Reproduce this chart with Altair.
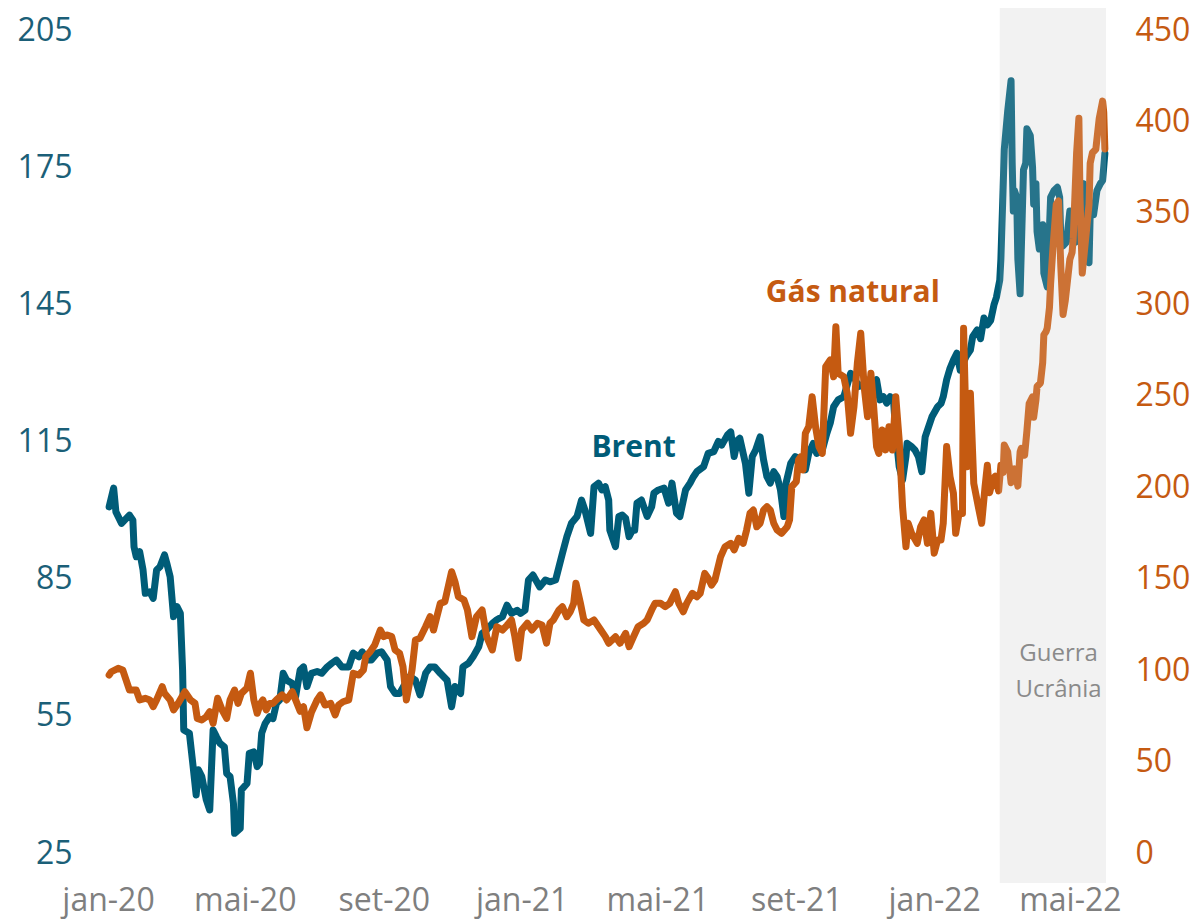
import altair as alt
import pandas as pd

# ---- data ----
# day offsets from 2020-01-01 and index values
brent_days = [1, 5, 7, 12, 19, 22, 23, 25, 28, 31, 33, 37, 40, 43, 46, 50, 52, 55, 58, 61,
              64, 66, 67, 72, 75, 78, 80, 83, 87, 90, 93, 96, 99, 103, 105, 108, 111, 112, 117, 118,
              123, 125, 129, 132, 134, 136, 139, 143, 146, 149, 152, 155, 158, 163, 166, 170, 173, 176, 180, 185,
              189, 194, 198, 202, 207, 213, 217, 222, 225, 229, 233, 238, 242, 247, 250, 254, 258, 263, 267, 272,
              276, 281, 285, 289, 294, 300, 304, 307, 312, 314, 319, 323, 328, 331, 335, 340, 344, 349, 353, 357,
              362, 365, 369, 372, 376, 382, 387, 391, 396, 399, 402, 406, 410, 415, 419, 422, 427, 430, 434, 437,
              440, 443, 444, 449, 452, 455, 458, 461, 464, 466, 468, 472, 477, 481, 483, 487, 492, 496, 499, 503,
              506, 511, 515, 518, 521, 527, 531, 536, 540, 543, 548, 551, 554, 557, 559, 564, 567, 570, 573, 576,
              577, 580, 583, 586, 589, 592, 595, 598, 600, 604, 608, 613, 617, 620, 624, 627, 632, 636, 639, 642,
              646, 651, 657, 660, 664, 669, 673, 677, 680, 683, 686, 689, 692, 695, 697, 700, 703, 706, 707, 711,
              714, 717, 720, 723, 726, 729, 734, 737, 739, 742, 745, 748, 751, 754, 759, 763, 765, 769, 772, 775,
              778, 781, 784, 786, 789, 790, 792, 793, 796, 799, 800, 801, 802, 804, 805, 807, 810, 812, 813, 816,
              818, 819, 821, 822, 824, 827, 828, 831, 834, 837, 840, 842, 843, 845, 848, 851, 853, 856, 857, 860,
              863, 866, 868, 869, 872, 875, 878, 880, 882]
brent_vals = [100.7, 104.8, 99.6, 97.1, 98.9, 97.8, 92.0, 89.8, 90.9, 86.9, 81.8, 82.1, 80.7, 86.9, 87.6, 90.2, 88.4, 85.4, 76.7, 78.9,
              77.4, 65.0, 51.9, 51.2, 44.6, 37.7, 43.2, 41.7, 36.6, 34.4, 51.9, 50.4, 49.0, 48.2, 42.4, 41.7, 35.8, 29.3, 30.4, 38.8,
              40.2, 46.8, 47.1, 43.9, 44.6, 51.2, 53.3, 54.8, 54.4, 57.7, 58.5, 64.3, 62.8, 62.1, 59.2, 65.0, 65.7, 61.4, 64.3, 64.7,
              64.3, 65.7, 66.5, 67.2, 65.7, 65.7, 68.7, 67.9, 69.0, 67.2, 67.2, 68.7, 69.0, 67.2, 61.4, 59.9, 59.9, 62.1, 63.6, 62.8,
              59.6, 64.3, 65.7, 65.7, 64.3, 62.8, 57.0, 61.4, 59.9, 65.7, 66.5, 67.9, 70.1, 73.0, 73.8, 75.2, 76.0, 76.7, 79.2, 77.4,
              78.1, 77.4, 78.1, 84.7, 85.8, 83.2, 84.7, 84.3, 84.7, 87.6, 90.5, 94.2, 97.1, 98.6, 102.2, 100.0, 94.9, 105.1, 105.9, 104.4,
              105.1, 102.2, 95.6, 92.0, 98.6, 98.9, 98.2, 94.2, 95.6, 95.6, 101.5, 102.2, 98.6, 100.7, 103.7, 104.4, 104.8, 101.5, 105.9, 99.3,
              98.6, 104.4, 105.9, 107.3, 108.4, 109.5, 112.4, 112.8, 115.0, 114.2, 116.4, 117.1, 111.7, 115.3, 115.7, 110.2, 103.7, 111.7, 113.1, 115.3,
              116.0, 111.0, 107.3, 105.9, 108.4, 107.3, 104.4, 98.6, 106.0, 110.2, 111.7, 111.0, 108.8, 112.4, 114.6, 112.4, 113.1, 116.8, 119.0, 122.6,
              124.1, 124.8, 129.9, 129.2, 127.0, 127.7, 128.5, 127.7, 128.5, 124.1, 124.8, 123.4, 124.8, 124.1, 116.8, 109.5, 106.6, 111.7, 114.6, 113.9,
              113.1, 111.7, 108.4, 116.0, 118.2, 120.4, 122.6, 123.3, 124.8, 128.5, 131.0, 132.8, 134.3, 130.6, 133.5, 135.0, 137.9, 139.4, 137.5, 142.0,
              140.5, 141.5, 145.0, 146.5, 150.3, 154.9, 170.6, 178.9, 187.2, 193.9, 175.9, 165.4, 169.9, 168.4, 154.9, 147.3, 174.4, 175.9, 183.4, 181.9,
              175.1, 166.9, 171.4, 160.9, 157.1, 162.4, 151.8, 148.8, 168.4, 169.9, 170.6, 168.4, 159.4, 157.8, 158.6, 165.4, 159.4, 158.6, 160.9, 165.4,
              171.4, 157.1, 154.1, 164.6, 164.6, 169.9, 171.4, 172.1, 178.0]

gas_days = [1, 3, 9, 13, 17, 19, 25, 28, 33, 37, 40, 43, 48, 50, 55, 58, 62, 68, 73, 77,
            79, 83, 87, 90, 93, 97, 101, 105, 108, 112, 115, 118, 123, 126, 129, 132, 135, 137, 140, 143,
            146, 149, 154, 158, 163, 166, 170, 173, 176, 180, 185, 188, 192, 197, 201, 204, 208, 213, 217, 222,
            226, 228, 232, 236, 241, 244, 247, 251, 254, 258, 261, 264, 269, 272, 276, 281, 285, 288, 291, 294,
            298, 301, 304, 307, 310, 315, 318, 322, 326, 331, 335, 340, 344, 349, 353, 357, 360, 363, 366, 371,
            375, 380, 384, 388, 391, 394, 399, 402, 406, 409, 412, 414, 418, 421, 425, 430, 436, 440, 443, 449,
            453, 458, 461, 465, 469, 474, 477, 481, 484, 489, 493, 497, 502, 505, 509, 512, 517, 521, 524, 528,
            531, 534, 537, 542, 546, 551, 554, 558, 562, 565, 568, 571, 574, 577, 580, 583, 586, 589, 592, 596,
            601, 603, 605, 609, 611, 613, 615, 617, 620, 623, 626, 629, 632, 635, 639, 642, 644, 646, 651, 654,
            657, 660, 663, 666, 669, 672, 675, 677, 680, 682, 685, 688, 691, 694, 697, 700, 703, 706, 708, 711,
            716, 719, 722, 725, 728, 731, 734, 737, 739, 742, 745, 748, 750, 753, 756, 757, 760, 763, 766, 770,
            773, 776, 778, 780, 783, 785, 788, 790, 792, 793, 796, 799, 802, 805, 807, 808, 811, 813, 815, 818,
            819, 821, 822, 825, 827, 828, 830, 831, 833, 834, 836, 839, 841, 843, 845, 847, 849, 851, 853, 854,
            857, 859, 860, 862, 865, 868, 869, 871, 874, 877, 880, 881, 882]
gas_vals = [97.3, 99.1, 101.0, 100.1, 92.8, 89.1, 89.1, 83.7, 84.6, 83.7, 80.0, 83.7, 90.9, 87.3, 83.7, 78.2, 81.8, 88.2, 83.7, 81.8,
            73.6, 72.7, 74.5, 77.3, 70.9, 84.6, 78.2, 73.6, 83.7, 89.1, 81.8, 87.3, 90.2, 98.3, 83.7, 76.4, 81.8, 83.7, 78.2, 81.8,
            81.8, 83.7, 86.4, 83.7, 88.2, 83.7, 77.5, 80.0, 68.5, 77.0, 83.7, 86.4, 80.9, 81.8, 75.5, 80.9, 82.7, 83.7, 98.3, 97.3,
            100.1, 107.3, 110.1, 113.7, 121.9, 118.3, 119.2, 118.3, 111.0, 109.2, 101.9, 83.7, 100.1, 116.5, 117.4, 123.7, 129.2, 121.9, 129.2, 136.5,
            137.4, 145.6, 153.8, 148.3, 140.1, 138.3, 132.9, 118.3, 129.2, 132.9, 118.3, 111.0, 123.7, 121.9, 124.5, 127.4, 118.3, 106.5, 121.9, 125.6,
            121.9, 125.6, 124.7, 114.7, 125.6, 127.4, 132.9, 134.7, 129.2, 131.9, 136.5, 147.5, 136.5, 127.4, 125.6, 127.4, 121.9, 118.3, 114.7, 118.3,
            114.7, 120.1, 112.8, 118.3, 123.7, 125.6, 127.4, 132.9, 136.5, 136.5, 134.7, 136.5, 142.9, 136.5, 131.9, 136.5, 142.0, 140.1, 142.0, 152.9,
            150.2, 146.5, 149.3, 162.0, 167.5, 169.3, 165.7, 172.1, 169.3, 176.6, 185.7, 187.5, 178.4, 180.3, 187.5, 189.4, 187.5, 180.3, 176.6, 174.8,
            178.4, 182.1, 200.3, 203.0, 215.0, 216.7, 209.4, 229.5, 233.1, 249.5, 233.1, 222.2, 218.5, 265.9, 269.6, 260.4, 287.8, 262.3, 260.4, 251.4,
            229.5, 244.0, 267.8, 284.2, 255.0, 238.6, 262.3, 247.7, 222.2, 218.5, 231.3, 220.4, 233.1, 220.4, 249.5, 225.8, 189.4, 167.5, 180.3, 174.8,
            169.3, 178.4, 182.1, 169.3, 185.7, 163.9, 171.1, 171.1, 180.3, 222.2, 205.8, 196.7, 174.8, 185.7, 185.7, 286.9, 211.2, 251.4, 202.1, 189.4,
            180.3, 200.3, 212.0, 197.0, 204.4, 206.0, 198.0, 212.0, 208.1, 223.1, 219.4, 202.5, 210.0, 200.6, 219.4, 221.3, 217.5, 230.7, 245.7, 249.4,
            238.2, 247.6, 255.1, 257.0, 268.2, 283.3, 285.1, 287.1, 298.3, 311.4, 330.3, 354.7, 356.6, 320.9, 294.5, 302.1, 313.4, 324.6, 328.4, 335.9,
            382.9, 401.7, 358.4, 317.1, 335.9, 354.7, 377.2, 382.9, 384.8, 401.7, 411.1, 405.0, 385.0]

left_ticks = [25, 55, 85, 115, 145, 175, 205]
right_ticks = [0, 50, 100, 150, 200, 250, 300, 350, 400, 450]
month_names = ["jan", "fev", "mar", "abr", "mai", "jun", "jul", "ago", "set", "out", "nov", "dez"]
shade_start, shade_end = "2022-02-28", "2022-06-02"

TEAL = "#005c78"
TEAL_TXT = "#1b5f78"
ORANGE = "#c55a11"
GRAY = "#7f7f7f"
FONT = "Open Sans"

base = pd.Timestamp("2020-01-01")
brent_df = pd.DataFrame({"date": base + pd.to_timedelta(brent_days, unit="D"), "value": brent_vals})
gas_df = pd.DataFrame({"date": base + pd.to_timedelta(gas_days, unit="D"), "value": gas_vals})
shade_df = pd.DataFrame({"start": [pd.Timestamp(shade_start)], "end": [pd.Timestamp(shade_end)]})
brent_lab = pd.DataFrame({"date": [pd.Timestamp("2021-04-10")], "value": [113.6], "label": ["Brent"]})
gas_lab = pd.DataFrame({"date": [pd.Timestamp("2021-10-21")], "value": [306.0], "label": ["Gás natural"]})
war_lab = pd.DataFrame({"date": [pd.Timestamp("2022-04-21")], "value": [109.0], "label": ["Guerra\nUcrânia"]})

x_scale = alt.Scale(domain=[alt.DateTime(year=2020, month=1, date=1),
                            alt.DateTime(year=2022, month=6, date=2)])
tick_dates = [alt.DateTime(year=y, month=m, date=1)
              for y, m in [(2020, 1), (2020, 5), (2020, 9), (2021, 1), (2021, 5), (2021, 9), (2022, 1), (2022, 5)]]
label_expr = ("['" + "','".join(month_names) + "'][month(datum.value)] + '-' + timeFormat(datum.value, '%y')")
x_axis = alt.Axis(values=tick_dates, labelExpr=label_expr, title=None, grid=False, ticks=False,
                  domain=False, labelFont=FONT, labelFontSize=32, labelColor=GRAY, labelPadding=32,
                  labelFlush=False, labelOverlap=False, labelBound=False)

left_axis = alt.Axis(orient="left", values=left_ticks, title=None, grid=False, ticks=False, domain=False,
                     labelFont=FONT, labelFontSize=32, labelColor=TEAL_TXT, labelPadding=36,
                     labelFlush=False, labelOverlap=False)
right_axis = alt.Axis(orient="right", values=right_ticks, title=None, grid=False, ticks=False, domain=False,
                      labelFont=FONT, labelFontSize=32, labelColor=ORANGE, labelPadding=29,
                      labelFlush=False, labelOverlap=False)
left_scale = alt.Scale(domain=[25, 205], nice=False, zero=False)
right_scale = alt.Scale(domain=[0, 450], nice=False, zero=False)

X = alt.X("date:T", scale=x_scale, axis=x_axis)

shade_bg = alt.Chart(shade_df).mark_rect(color="#f2f2f2").encode(
    x=alt.X("start:T", scale=x_scale, axis=x_axis), x2="end:T",
    y=alt.value(-22), y2=alt.value(853))

brent_line = alt.Chart(brent_df).mark_line(color=TEAL, strokeWidth=7, strokeJoin="round", strokeCap="round").encode(
    x=X, y=alt.Y("value:Q", scale=left_scale, axis=left_axis))
brent_text = alt.Chart(brent_lab).mark_text(color=TEAL, font=FONT, fontSize=30, fontWeight="bold").encode(
    x=X, y=alt.Y("value:Q", scale=left_scale, axis=left_axis), text="label:N")
brent_group = alt.layer(brent_line, brent_text)

gas_line = alt.Chart(gas_df).mark_line(color=ORANGE, strokeWidth=7, strokeJoin="round", strokeCap="round").encode(
    x=X, y=alt.Y("value:Q", scale=right_scale, axis=right_axis))
gas_text = alt.Chart(gas_lab).mark_text(color=ORANGE, font=FONT, fontSize=30, fontWeight="bold").encode(
    x=X, y=alt.Y("value:Q", scale=right_scale, axis=right_axis), text="label:N")
war_text = alt.Chart(war_lab).mark_text(color="#777777", font=FONT, fontSize=24, lineBreak="\n", lineHeight=36).encode(
    x=X, y=alt.Y("value:Q", scale=right_scale, axis=right_axis), text="label:N")
gas_group = alt.layer(gas_line, gas_text, war_text)

shade_fg = alt.Chart(shade_df).mark_rect(color="#f2f2f2", opacity=0.16).encode(
    x=alt.X("start:T", scale=x_scale, axis=x_axis), x2="end:T",
    y=alt.value(0), y2=alt.value(823))

chart = alt.layer(shade_bg, brent_group, gas_group, shade_fg).resolve_scale(y="independent").properties(
    width=998, height=823,
    padding={"left": 100, "top": 22, "right": 85, "bottom": 75},
    autosize=alt.AutoSizeParams(type="none"),
    background="white",
).configure_view(strokeWidth=0)

chart.save("out.html", embed_options={"renderer": "svg", "actions": False})
